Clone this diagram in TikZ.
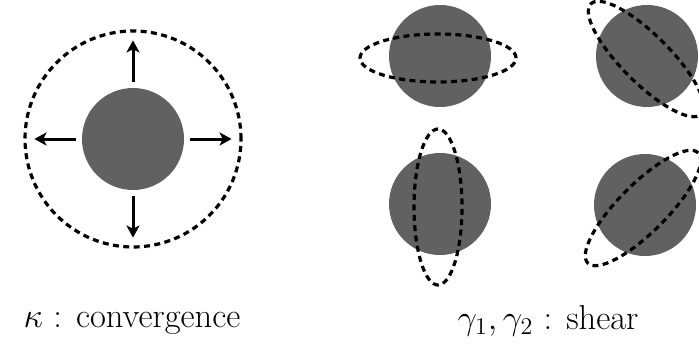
\documentclass[tikz,border=0pt]{standalone}
\usetikzlibrary{shapes.geometric,arrows.meta}
\definecolor{discgray}{RGB}{97,97,97}

\begin{document}
\begin{tikzpicture}[x=0.5pt, y=0.5pt,
      disc/.style={circle, fill=discgray, minimum size=51pt, inner sep=0pt, outer sep=0pt},
      halo/.style={draw, line width=1.6pt, dash pattern=on 3pt off 2.2pt, inner sep=0pt},
      ring/.style={halo, ellipse, minimum width=78pt, minimum height=24pt},
      push/.style={-{Stealth[length=6pt, width=6.5pt, inset=1.5pt]}, line width=1.5pt,
         shorten <=3pt, shorten >=5.5pt},
      caption/.style={anchor=base, inner sep=0pt, font=\LARGE}]
      \useasboundingbox (0, 0) rectangle (699, 343);

      \begin{scope}[name prefix = conv-]
         \node[disc] (disc) at (133, 204) {};
         \node[halo, circle, minimum size=108pt] (halo) at (133, 204) {};
         \node[caption] (label) at (132, 16) {$\kappa$ : convergence};
      \end{scope}

      \begin{scope}[name prefix = shear-]
         \node[disc] (disc1) at (440, 287) {};
         \node[disc] (disc2) at (647, 287) {};
         \node[disc] (disc3) at (440, 139) {};
         \node[disc] (disc4) at (645, 138) {};
         \node[ring] (ring1) at (438, 285) {};
         \node[ring, rotate=-45] (ring2) at (646, 284) {};
         \node[ring, rotate=90] (ring3) at (438, 136) {};
         \node[ring, rotate=45] (ring4) at (643, 135) {};
         \node[caption] (label) at (548, 14) {$\gamma_1, \gamma_2$ : shear};
      \end{scope}

      \begin{scope}
         \draw[push] (conv-disc) -- (conv-halo.north);
         \draw[push] (conv-disc) -- (conv-halo.south);
         \draw[push] (conv-disc) -- (conv-halo.west);
         \draw[push] (conv-disc) -- (conv-halo.east);
      \end{scope}
\end{tikzpicture}
\end{document}
